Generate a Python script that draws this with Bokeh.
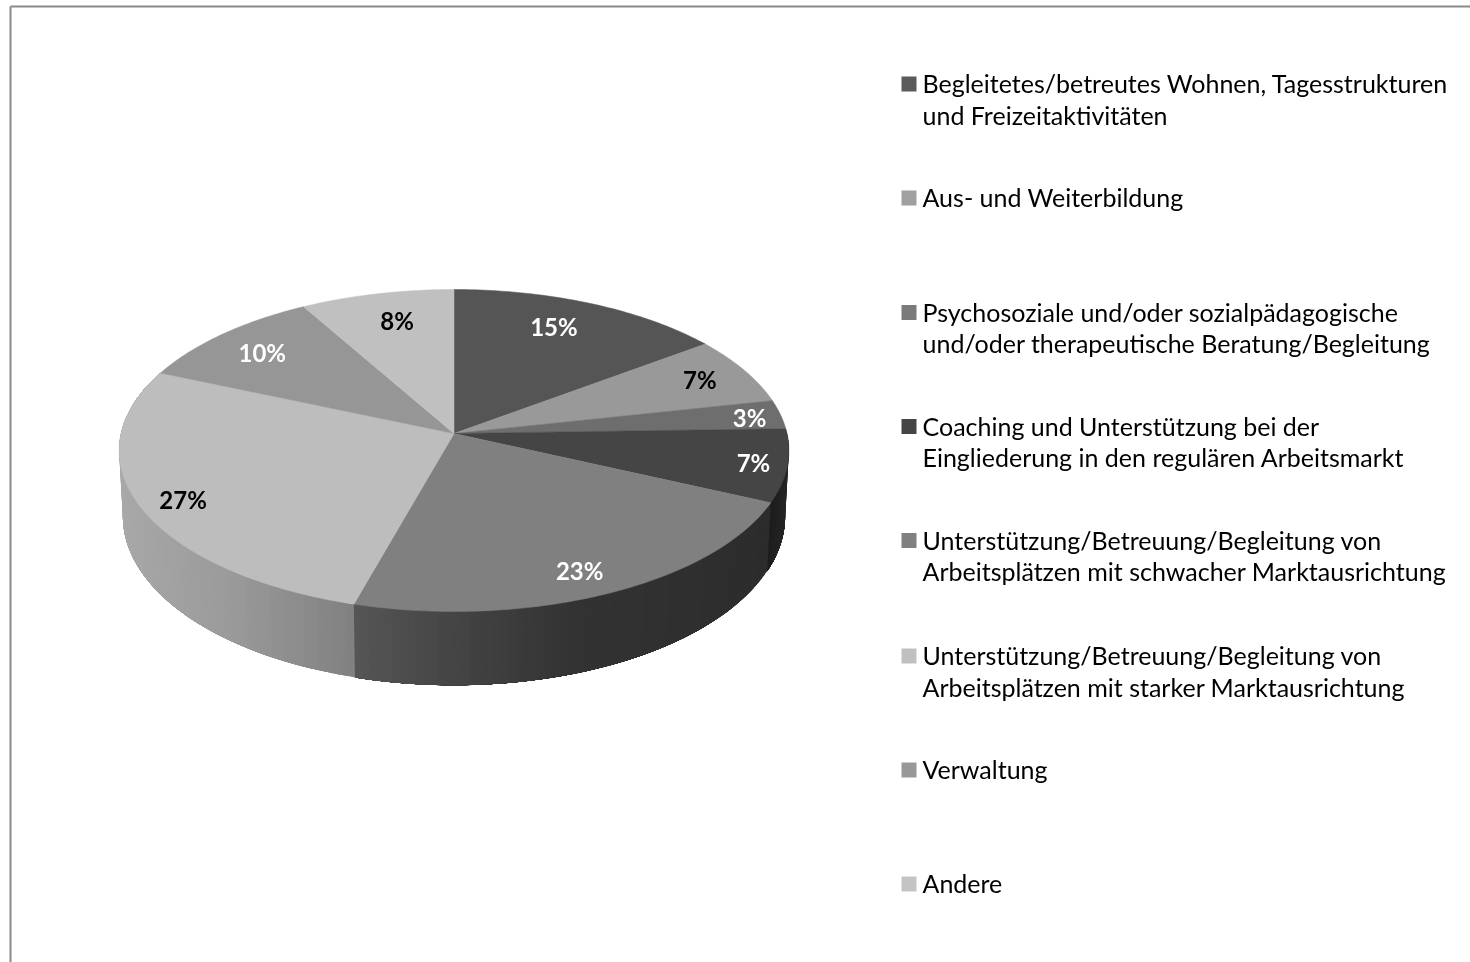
import math
from bokeh.plotting import figure
from bokeh.models import ColumnDataSource, Range1d
from bokeh.core.properties import value
from bokeh.embed import file_html
from bokeh.resources import INLINE

# ---- data ----
CATEGORIES = [
    ["Begleitetes/betreutes Wohnen, Tagesstrukturen", "und Freizeitaktivitäten"],
    ["Aus- und Weiterbildung"],
    ["Psychosoziale und/oder sozialpädagogische", "und/oder therapeutische Beratung/Begleitung"],
    ["Coaching und Unterstützung bei der", "Eingliederung in den regulären Arbeitsmarkt"],
    ["Unterstützung/Betreuung/Begleitung von", "Arbeitsplätzen mit schwacher Marktausrichtung"],
    ["Unterstützung/Betreuung/Begleitung von", "Arbeitsplätzen mit starker Marktausrichtung"],
    ["Verwaltung"],
    ["Andere"],
]
VALUES = [14.8, 6.8, 2.9, 7.3, 22.5, 27.1, 10.3, 8.2]
PERCENT_LABELS = ["15%", "7%", "3%", "7%", "23%", "27%", "10%", "8%"]

# ---- styles ----
TOP_COLORS = ["#555555", "#999999", "#6e6e6e", "#454545", "#808080", "#bdbdbd", "#969696", "#c0c0c0"]
LEGEND_COLORS = ["#5a5a5a", "#a0a0a0", "#7a7a7a", "#454545", "#808080", "#c0c0c0", "#989898", "#c4c4c4"]
LABEL_COLORS = ["white", "black", "white", "white", "white", "black", "white", "black"]
# wall shading: (screen x, grey level) stops per slice index
WALL_STOPS = {
    3: [(766, 0x1a), (788, 0x26)],
    4: [(356, 0x55), (450, 0x45), (570, 0x33), (772, 0x2c)],
    5: [(120, 0xa8), (230, 0x9a), (356, 0x80)],
}

# ---- layout ----
W, H = 1470, 962
CX, CY = 453.5, 433        # apex of the pie on screen
A, B, K = 333.0, 159.2, 0.1056   # top disc projection
A2, B2, CY2 = 329.3, 167.0, 498  # bottom disc projection
LABEL_RADIUS = [0.785, 0.839, 0.901, 0.901, 0.865, 0.878, 0.807, 0.782]
LABEL_NUDGE = [-2.4, 0.2, 1.0, 0.5, 1.3, -2.0, -0.8, 1.1]
LABEL_LIFT = 1
LEGEND_SQUARE_Y = [83.5, 197.5, 312, 426, 540, 655.5, 769.5, 883.5]
LEGEND_LINE_GAP = 31.5
LEGEND_SQUARE_X, LEGEND_TEXT_X = 908.5, 922
FONT = "Lato"
STRIP_DEG = 1.2


def top(t, r=1.0):
    u, v = r * math.sin(t), r * math.cos(t)
    w = 1 + K * v
    return CX + A * u / w, CY - B * v / w


def bottom(t):
    u, v = math.sin(t), math.cos(t)
    w = 1 + K * v
    return CX + A2 * u / w, CY2 - B2 * v / w


def grey(x, stops):
    if x <= stops[0][0]:
        g = stops[0][1]
    elif x >= stops[-1][0]:
        g = stops[-1][1]
    else:
        for (x0, g0), (x1, g1) in zip(stops, stops[1:]):
            if x0 <= x <= x1:
                g = g0 + (g1 - g0) * (x - x0) / (x1 - x0)
                break
    g = int(round(g))
    return f"#{g:02x}{g:02x}{g:02x}"


total = sum(VALUES)
edges = [0.0]
for v in VALUES:
    edges.append(edges[-1] + v / total * 2 * math.pi)

p = figure(width=W, height=H, x_range=Range1d(0, W), y_range=Range1d(H, 0),
           x_axis_type=None, y_axis_type=None, toolbar_location=None,
           output_backend="svg", min_border=0, outline_line_color=None,
           background_fill_color="white", border_fill_color="white",
           styles={"position": "fixed", "left": "0px", "top": "0px"})
p.grid.visible = False

# frame running off the right and bottom of the page
p.multi_line(xs=[[10, W + 5], [10, 10]], ys=[[6, 6], [6, H + 5]], line_color="#8a8a8a", line_width=2)

# side wall: overlapping strips, each running to the slice's far end
wx, wy, wc = [], [], []
for i, stops in WALL_STOPS.items():
    t0, t1 = edges[i], edges[i + 1]
    n = max(2, int((t1 - t0) / math.radians(STRIP_DEG)))
    for j in range(n):
        a = t0 + (t1 - t0) * j / n
        m = 12
        ts = [a + (t1 - a) * q / m for q in range(m + 1)]
        upper = [top(s) for s in ts]
        lower = [bottom(s) for s in reversed(ts)]
        wx.append([q[0] for q in upper + lower])
        wy.append([q[1] for q in upper + lower])
        mid = top(a + (t1 - t0) / n / 2)
        wc.append(grey(mid[0], stops))
p.patches("x", "y", source=ColumnDataSource(dict(x=wx, y=wy, c=wc)), fill_color="c", line_color=None)

# top sectors
sx, sy = [], []
for i in range(len(VALUES)):
    t0, t1 = edges[i], edges[i + 1]
    n = max(8, int((t1 - t0) / math.radians(1.0)))
    pts = [top(t0 + (t1 - t0) * j / n) for j in range(n + 1)]
    sx.append([CX] + [q[0] for q in pts])
    sy.append([CY] + [q[1] for q in pts])
p.patches("x", "y", source=ColumnDataSource(dict(x=sx, y=sy, c=TOP_COLORS)),
          fill_color="c", line_color="c", line_width=0.5)

# percentage labels
lx, ly = [], []
for i in range(len(VALUES)):
    mid = (edges[i] + edges[i + 1]) / 2 + math.radians(LABEL_NUDGE[i])
    q = top(mid, LABEL_RADIUS[i])
    lx.append(q[0])
    ly.append(q[1] - LABEL_LIFT)
p.text("x", "y", text="t", text_color="c",
       source=ColumnDataSource(dict(x=lx, y=ly, t=PERCENT_LABELS, c=LABEL_COLORS)),
       text_font=value(FONT), text_font_style="bold", text_font_size="24px",
       text_align="center", text_baseline="middle")

# legend
p.rect(x=[LEGEND_SQUARE_X] * len(LEGEND_COLORS), y=LEGEND_SQUARE_Y, width=15, height=15,
       fill_color=LEGEND_COLORS, line_color=None)
tx, ty, tt = [], [], []
for yy, rows in zip(LEGEND_SQUARE_Y, CATEGORIES):
    for k, row in enumerate(rows):
        tx.append(LEGEND_TEXT_X)
        ty.append(yy + k * LEGEND_LINE_GAP - 1)
        tt.append(row)
p.text("x", "y", text="t", source=ColumnDataSource(dict(x=tx, y=ty, t=tt)),
       text_color="#000000", text_font=value(FONT), text_font_size="25px",
       text_align="left", text_baseline="middle")

open("out.html", "w").write(file_html(p, INLINE))
